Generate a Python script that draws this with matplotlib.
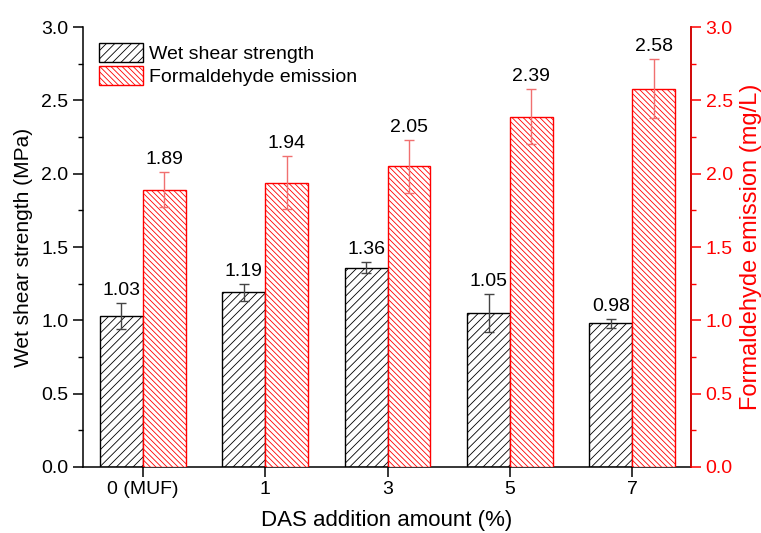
import numpy as np
import matplotlib
matplotlib.use("Agg")
import matplotlib.pyplot as plt
from matplotlib.ticker import MultipleLocator

plt.rcParams["font.family"] = ["Liberation Sans", "DejaVu Sans"]
plt.rcParams["hatch.linewidth"] = 0.6

# data
categories = ["0 (MUF)", "1", "3", "5", "7"]
shear = [1.03, 1.19, 1.36, 1.05, 0.98]
shear_err = [0.09, 0.06, 0.04, 0.13, 0.03]
hcho = [1.89, 1.94, 2.05, 2.39, 2.58]
hcho_err = [0.12, 0.18, 0.18, 0.19, 0.20]

x = np.arange(len(categories))
w = 0.35
red = "#ff0000"

fig = plt.figure(figsize=(7.61, 5.33), dpi=100)
ax = fig.add_axes([0.109, 0.124, 0.799, 0.825])
ax2 = ax.twinx()

b1 = ax.bar(x - w / 2, shear, w, facecolor="white", edgecolor="black",
            hatch="////", linewidth=1.0, label="Wet shear strength")
ax.errorbar(x - w / 2, shear, yerr=shear_err, fmt="none", ecolor="#444444",
            elinewidth=1.0, capsize=3.5, capthick=1.0)

b2 = ax2.bar(x + w / 2, hcho, w, facecolor="white", edgecolor=red,
             hatch="\\" * 6, linewidth=1.0, label="Formaldehyde emission")
ax2.errorbar(x + w / 2, hcho, yerr=hcho_err, fmt="none", ecolor="#f07070",
             elinewidth=1.0, capsize=3.5, capthick=1.0)

# value labels above the error bars
for xi, v, e in zip(x - w / 2, shear, shear_err):
    ax.annotate(f"{v:.2f}", (xi, v + e), xytext=(0, 3), textcoords="offset points",
                ha="center", va="bottom", fontsize=14)
for xi, v, e in zip(x + w / 2, hcho, hcho_err):
    ax2.annotate(f"{v:.2f}", (xi, v + e), xytext=(0, 3), textcoords="offset points",
                 ha="center", va="bottom", fontsize=14)

for a in (ax, ax2):
    a.set_ylim(0, 3.0)
    a.set_xlim(-0.49, 4.48)
    a.yaxis.set_major_locator(MultipleLocator(0.5))
    a.yaxis.set_minor_locator(MultipleLocator(0.25))
    a.yaxis.set_major_formatter(plt.FormatStrFormatter("%.1f"))
    a.spines["top"].set_visible(False)
    for s in a.spines.values():
        s.set_linewidth(1.1)

ax.set_xticks(x)
ax.set_xticklabels(categories)

ax.tick_params(axis="both", which="major", length=7, width=1.1, labelsize=14, direction="out")
ax.tick_params(axis="y", which="minor", length=3.5, width=1.0, direction="out")
ax.tick_params(axis="x", which="minor", length=0)
ax2.tick_params(axis="y", which="major", length=7, width=1.1, labelsize=14,
                colors=red, direction="out")
ax2.tick_params(axis="y", which="minor", length=3.5, width=1.0, colors=red, direction="out")
ax2.spines["right"].set_color(red)
ax2.spines["left"].set_visible(False)
ax2.spines["bottom"].set_visible(False)

ax.set_xlabel("DAS addition amount (%)", fontsize=16, labelpad=8)
ax.set_ylabel("Wet shear strength (MPa)", fontsize=15, labelpad=6)
ax2.set_ylabel("Formaldehyde emission (mg/L)", fontsize=17, color=red, labelpad=5)

ax.legend(handles=[b1, b2], loc="upper left", bbox_to_anchor=(0.0, 1.0),
          frameon=False, fontsize=14, handlelength=2.27, handleheight=1.13,
          handletextpad=0.35, labelspacing=0.15, borderaxespad=0.5, borderpad=0.3)

fig.savefig("out.png", dpi=100)
